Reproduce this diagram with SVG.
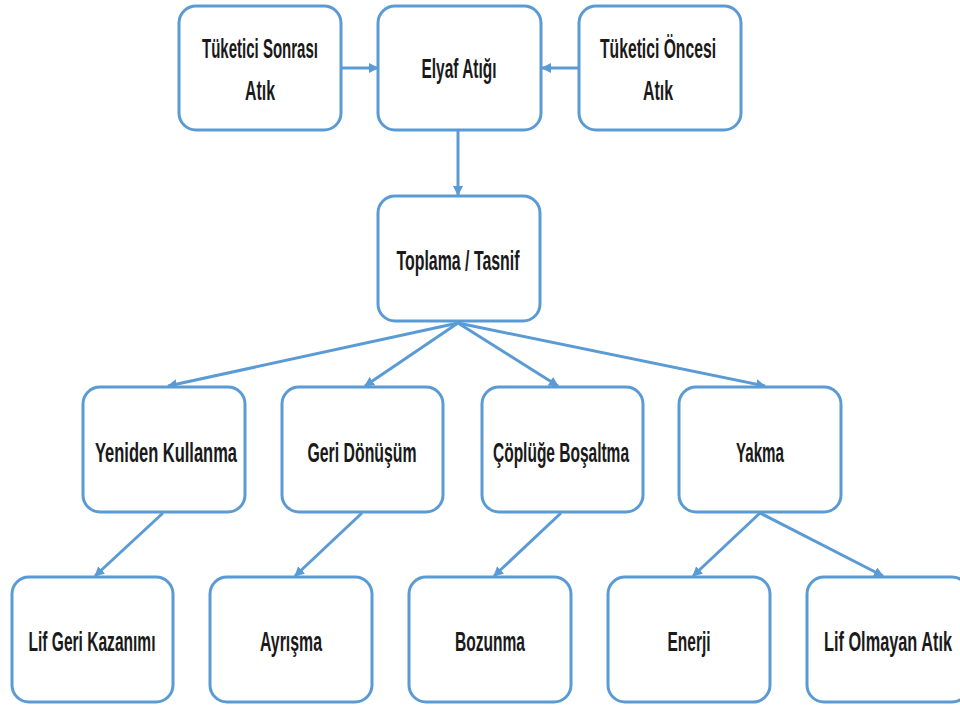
<svg xmlns="http://www.w3.org/2000/svg" width="960" height="708" viewBox="0 0 960 708">
  <style>
    .box { fill: #ffffff; stroke: #5b9bd5; stroke-width: 3; }
    .lbl { font-family: "Liberation Sans", Arial, sans-serif; font-weight: bold; font-size: 28px; fill: #1a1a1a; text-anchor: middle; }
    .edge { stroke: #5b9bd5; stroke-width: 3; fill: none; marker-end: url(#arrow); }
  </style>
  <defs>
    <marker id="arrow" viewBox="0 0 10 10" refX="9" refY="5" markerWidth="10" markerHeight="10" markerUnits="userSpaceOnUse" orient="auto">
      <path d="M0,0 L10,5 L0,10 z" fill="#5b9bd5"/>
    </marker>
  </defs>
  <rect width="960" height="708" fill="#ffffff"/>

  <g id="connectors">
    <line class="edge" x1="342" y1="68" x2="378" y2="68"/>
    <line class="edge" x1="579" y1="68" x2="542" y2="68"/>
    <line class="edge" x1="458" y1="131" x2="458" y2="195"/>
    <line class="edge" x1="458" y1="323" x2="168" y2="386"/>
    <line class="edge" x1="458" y1="323" x2="365" y2="386"/>
    <line class="edge" x1="458" y1="323" x2="558" y2="386"/>
    <line class="edge" x1="458" y1="323" x2="765" y2="386"/>
    <line class="edge" x1="163" y1="513" x2="95" y2="576"/>
    <line class="edge" x1="362" y1="513" x2="295" y2="576"/>
    <line class="edge" x1="561" y1="513" x2="494" y2="576"/>
    <line class="edge" x1="760" y1="513" x2="693" y2="576"/>
    <line class="edge" x1="760" y1="513" x2="883" y2="576"/>
  </g>

  <g id="tuketici-sonrasi">
    <rect class="box" x="179" y="6" width="162" height="124" rx="17"/>
    <text class="lbl" x="260" y="58" textLength="116" lengthAdjust="spacingAndGlyphs">Tüketici Sonrası</text>
    <text class="lbl" x="260" y="100" textLength="30" lengthAdjust="spacingAndGlyphs">Atık</text>
  </g>
  <g id="elyaf-atigi">
    <rect class="box" x="378" y="6" width="163" height="124" rx="17"/>
    <text class="lbl" x="459" y="78" textLength="75" lengthAdjust="spacingAndGlyphs">Elyaf Atığı</text>
  </g>
  <g id="tuketici-oncesi">
    <rect class="box" x="579" y="6" width="162" height="124" rx="17"/>
    <text class="lbl" x="658" y="58" textLength="116" lengthAdjust="spacingAndGlyphs">Tüketici Öncesi</text>
    <text class="lbl" x="658" y="100" textLength="30" lengthAdjust="spacingAndGlyphs">Atık</text>
  </g>
  <g id="toplama-tasnif">
    <rect class="box" x="378" y="196" width="162" height="125" rx="17"/>
    <text class="lbl" x="458" y="270" textLength="123" lengthAdjust="spacingAndGlyphs">Toplama / Tasnif</text>
  </g>

  <g id="yeniden-kullanma">
    <rect class="box" x="83" y="387" width="162" height="125" rx="17"/>
    <text class="lbl" x="166" y="462" textLength="142" lengthAdjust="spacingAndGlyphs">Yeniden Kullanma</text>
  </g>
  <g id="geri-donusum">
    <rect class="box" x="282" y="387" width="161" height="125" rx="17"/>
    <text class="lbl" x="362" y="462" textLength="109" lengthAdjust="spacingAndGlyphs">Geri Dönüşüm</text>
  </g>
  <g id="coplge-bosaltma">
    <rect class="box" x="482" y="387" width="161" height="125" rx="17"/>
    <text class="lbl" x="561" y="462" textLength="136" lengthAdjust="spacingAndGlyphs">Çöplüğe Boşaltma</text>
  </g>
  <g id="yakma">
    <rect class="box" x="679" y="387" width="162" height="125" rx="17"/>
    <text class="lbl" x="760" y="462" textLength="48" lengthAdjust="spacingAndGlyphs">Yakma</text>
  </g>

  <g id="lif-geri-kazanimi">
    <rect class="box" x="12" y="577" width="161" height="125" rx="17"/>
    <text class="lbl" x="92" y="651" textLength="127" lengthAdjust="spacingAndGlyphs">Lif Geri Kazanımı</text>
  </g>
  <g id="ayrisma">
    <rect class="box" x="210" y="577" width="162" height="125" rx="17"/>
    <text class="lbl" x="291" y="651" textLength="62" lengthAdjust="spacingAndGlyphs">Ayrışma</text>
  </g>
  <g id="bozunma">
    <rect class="box" x="409" y="577" width="162" height="125" rx="17"/>
    <text class="lbl" x="490" y="651" textLength="70" lengthAdjust="spacingAndGlyphs">Bozunma</text>
  </g>
  <g id="enerji">
    <rect class="box" x="608" y="577" width="162" height="125" rx="17"/>
    <text class="lbl" x="689" y="651" textLength="43" lengthAdjust="spacingAndGlyphs">Enerji</text>
  </g>
  <g id="lif-olmayan-atik">
    <rect class="box" x="807" y="577" width="162" height="125" rx="17"/>
    <text class="lbl" x="888" y="651" textLength="128" lengthAdjust="spacingAndGlyphs">Lif Olmayan Atık</text>
  </g>
</svg>
